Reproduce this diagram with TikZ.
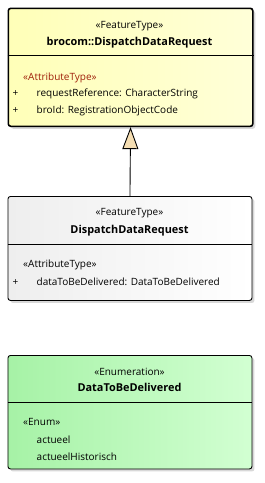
\documentclass[tikz,border=0pt]{standalone}
\usepackage{fontspec}
\setmainfont{Open Sans}
\usetikzlibrary{arrows.meta,shadows}
\definecolor{yelL}{HTML}{FFFFB8}
\definecolor{yelR}{HTML}{FFFFD8}
\definecolor{greL}{HTML}{A6F2A6}
\definecolor{greR}{HTML}{D2FFD2}
\definecolor{gryL}{HTML}{EEEEEE}
\definecolor{gryR}{HTML}{FFFFFF}
\definecolor{stereored}{HTML}{A0200A}
\definecolor{arrowfill}{HTML}{F5DEB3}
\tikzset{
  umlbox/.style={draw=black, rounded corners=2.5pt, line width=0.9pt,
    drop shadow={shadow xshift=2.5pt, shadow yshift=-2.5pt, fill=black!30, opacity=0.5}},
  txt/.style={font=\fontsize{10}{12}\selectfont, inner sep=0pt, anchor=base},
  ltxt/.style={txt, anchor=base west},
  btxt/.style={txt, font=\fontsize{10.9}{12}\selectfont\bfseries},
}
\begin{document}
\begin{tikzpicture}[x=1pt,y=-1pt]
\useasboundingbox (0,0) rectangle (265,483);
% box 1
\node[umlbox, line width=1.6pt, left color=yelL, right color=yelR, minimum width=244.5pt, minimum height=118pt, anchor=north west, inner sep=0pt] (b1) at (7.5,7.5) {};
\draw[line width=1.4pt] (b1.west |- 0,55.7) -- (b1.east |- 0,55.7);
\node[txt] (b1s) at (129.5,28) {«FeatureType»};
\node[btxt] (b1n) at (129.5,45) {brocom::DispatchDataRequest};
\node[ltxt, text=stereored] (b1a) at (23,80) {«AttributeType»};
\node[ltxt] (b1p1) at (12.5,96) {+};
\node[ltxt] (b1t1) at (36.5,96) {requestReference: CharacterString};
\node[ltxt] (b1p2) at (12.5,113.5) {+};
\node[ltxt] (b1t2) at (36.5,113.5) {broId: RegistrationObjectCode};
% box 2
\node[umlbox, left color=gryL, right color=gryR, minimum width=244pt, minimum height=104pt, anchor=north west, inner sep=0pt] (b2) at (7.5,196) {};
\draw[line width=0.9pt] (b2.west |- 0,244.5) -- (b2.east |- 0,244.5);
\node[txt] (b2s) at (129.5,215.5) {«FeatureType»};
\node[btxt] (b2n) at (129.5,233) {DispatchDataRequest};
\node[ltxt] (b2a) at (23,267) {«AttributeType»};
\node[ltxt] (b2p1) at (12.5,285) {+};
\node[ltxt] (b2t1) at (36.5,285) {dataToBeDelivered: DataToBeDelivered};
% box 3
\node[umlbox, left color=greL, right color=greR, minimum width=244pt, minimum height=113.5pt, anchor=north west, inner sep=0pt] (b3) at (7.5,355) {};
\draw[line width=0.9pt] (b3.west |- 0,402.7) -- (b3.east |- 0,402.7);
\node[txt] (b3s) at (129.5,375.5) {«Enumeration»};
\node[btxt] (b3n) at (129.5,391.5) {DataToBeDelivered};
\node[ltxt] (b3a) at (23,425.5) {«Enum»};
\node[ltxt] (b3v1) at (36.5,443) {actueel};
\node[ltxt] (b3v2) at (36.5,460.5) {actueelHistorisch};
% generalization
\draw[line width=0.9pt, -{Triangle[open, fill=arrowfill, length=22pt, width=16pt]}] (b2.north) -- (b1.south);
\end{tikzpicture}
\end{document}
